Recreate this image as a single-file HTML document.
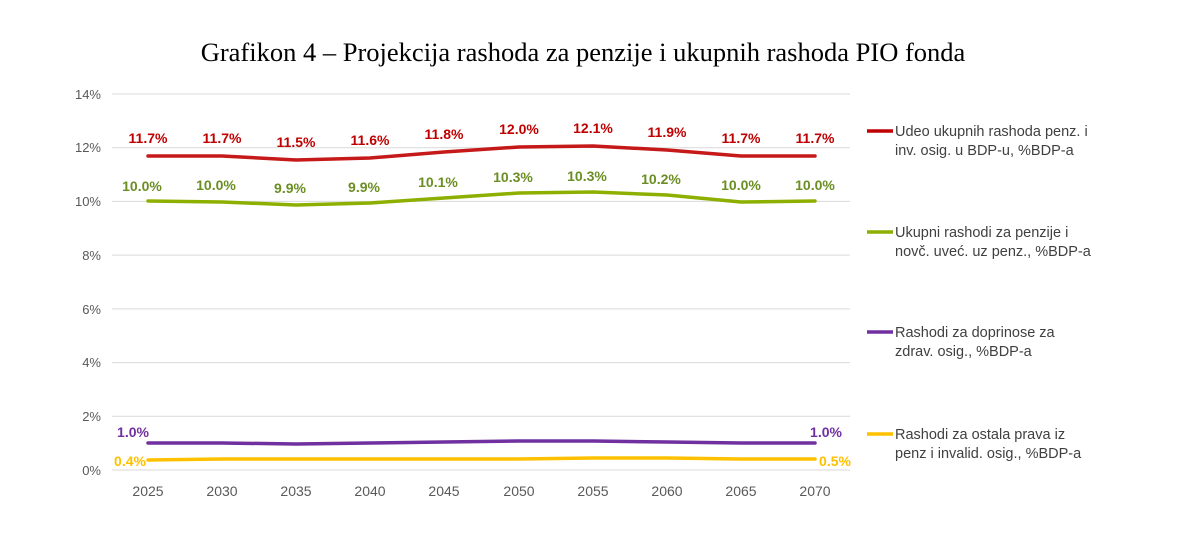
<!DOCTYPE html>
<html><head><meta charset="utf-8"><style>
body{margin:0;background:#fff;}
svg text{font-family:"Liberation Sans",sans-serif;}
</style></head><body>
<svg width="1192" height="538" xmlns="http://www.w3.org/2000/svg">
<text x="583" y="61" text-anchor="middle" style="font-family:'Liberation Serif',serif" font-size="26.5" fill="#000">Grafikon 4 – Projekcija rashoda za penzije i ukupnih rashoda PIO fonda</text>
<g stroke="#d9d9d9" stroke-width="1">
<line x1="112" x2="850" y1="94" y2="94"/><line x1="112" x2="850" y1="147.7" y2="147.7"/>
<line x1="112" x2="850" y1="201.4" y2="201.4"/><line x1="112" x2="850" y1="255.1" y2="255.1"/>
<line x1="112" x2="850" y1="308.9" y2="308.9"/><line x1="112" x2="850" y1="362.6" y2="362.6"/>
<line x1="112" x2="850" y1="416.3" y2="416.3"/><line x1="112" x2="850" y1="470" y2="470"/>
</g>
<g font-size="13" fill="#595959" text-anchor="end">
<text x="101" y="99">14%</text><text x="101" y="152">12%</text><text x="101" y="206">10%</text>
<text x="101" y="260">8%</text><text x="101" y="314">6%</text><text x="101" y="367">4%</text>
<text x="101" y="421">2%</text><text x="101" y="475">0%</text>
</g>
<g font-size="14" fill="#595959" text-anchor="middle">
<text x="148" y="496">2025</text><text x="222" y="496">2030</text><text x="296" y="496">2035</text>
<text x="370" y="496">2040</text><text x="444" y="496">2045</text><text x="519" y="496">2050</text>
<text x="593" y="496">2055</text><text x="667" y="496">2060</text><text x="741" y="496">2065</text>
<text x="815" y="496">2070</text>
</g>
<g fill="none" stroke-width="3.5" stroke-linejoin="round" stroke-linecap="round">
<polyline stroke="#c00000" stroke-opacity="0.9" points="148,156 222,156 296,160 370,158 444,152 519,147 593,146 667,150 741,156 815,156"/>
<polyline stroke="#8db000" points="148,201 222,202 296,205 370,203 444,198 519,193 593,192 667,195 741,202 815,201"/>
<polyline stroke="#7030a0" points="148,443 222,443 296,444 370,443 444,442 519,441 593,441 667,442 741,443 815,443"/>
<polyline stroke="#ffc000" points="148,460 222,459 296,459 370,459 444,459 519,459 593,458 667,458 741,459 815,459"/>
</g>
<g font-size="14" font-weight="bold" fill="#c00000" text-anchor="middle">
<text x="148" y="143">11.7%</text><text x="222" y="143">11.7%</text><text x="296" y="147">11.5%</text>
<text x="370" y="145">11.6%</text><text x="444" y="139">11.8%</text><text x="519" y="134">12.0%</text>
<text x="593" y="133">12.1%</text><text x="667" y="137">11.9%</text><text x="741" y="143">11.7%</text>
<text x="815" y="143">11.7%</text>
</g>
<g font-size="14" font-weight="bold" fill="#6b8e23" text-anchor="middle">
<text x="142" y="191">10.0%</text><text x="216" y="190">10.0%</text><text x="290" y="193">9.9%</text>
<text x="364" y="192">9.9%</text><text x="438" y="187">10.1%</text><text x="513" y="182">10.3%</text>
<text x="587" y="181">10.3%</text><text x="661" y="184">10.2%</text><text x="741" y="190">10.0%</text>
<text x="815" y="190">10.0%</text>
</g>
<text x="133" y="437" font-size="14" font-weight="bold" fill="#7030a0" text-anchor="middle">1.0%</text>
<text x="826" y="437" font-size="14" font-weight="bold" fill="#7030a0" text-anchor="middle">1.0%</text>
<text x="130" y="466" font-size="14" font-weight="bold" fill="#ffc000" text-anchor="middle">0.4%</text>
<text x="835" y="466" font-size="14" font-weight="bold" fill="#ffc000" text-anchor="middle">0.5%</text>
<g stroke-width="3.5">
<line x1="867" x2="893" y1="131" y2="131" stroke="#c00000"/>
<line x1="867" x2="893" y1="232" y2="232" stroke="#8db000"/>
<line x1="867" x2="893" y1="332" y2="332" stroke="#7030a0"/>
<line x1="867" x2="893" y1="434" y2="434" stroke="#ffc000"/>
</g>
<g font-size="14.5" fill="#404040">
<text x="895" y="136">Udeo ukupnih rashoda penz. i</text><text x="895" y="155">inv. osig. u BDP-u, %BDP-a</text>
<text x="895" y="237">Ukupni rashodi za penzije i</text><text x="895" y="256">novč. uveć. uz penz., %BDP-a</text>
<text x="895" y="337">Rashodi za doprinose za</text><text x="895" y="356">zdrav. osig., %BDP-a</text>
<text x="895" y="439">Rashodi za ostala prava iz</text><text x="895" y="458">penz i invalid. osig., %BDP-a</text>
</g>
</svg>
</body></html>
